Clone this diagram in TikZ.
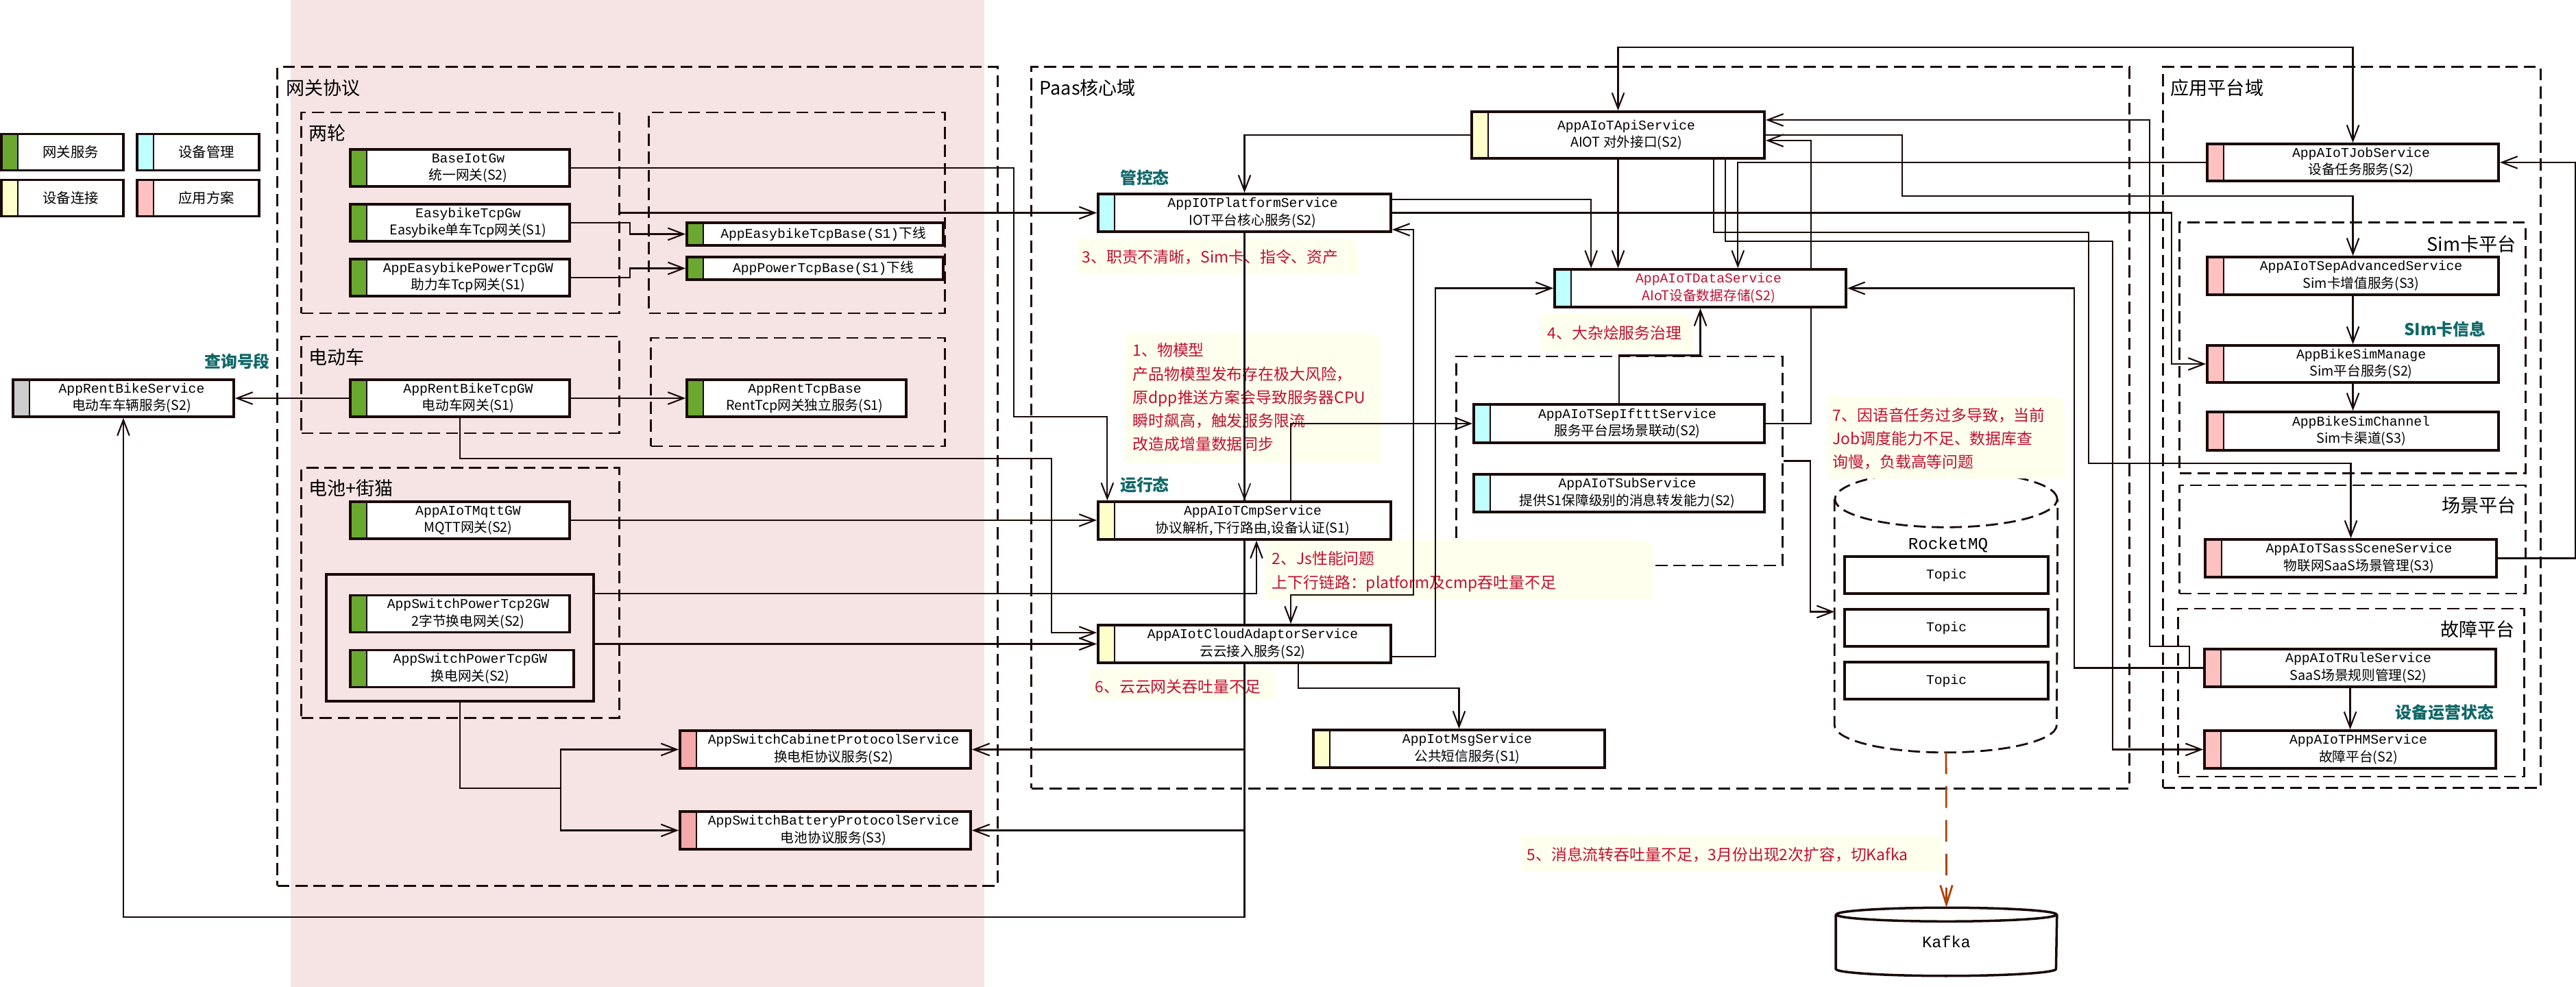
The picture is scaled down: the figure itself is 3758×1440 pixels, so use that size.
\documentclass[tikz,border=0pt]{standalone}
\usepackage{fontspec}
\setmainfont{Noto Sans CJK SC}
\newfontfamily\monoF{Liberation Mono}
\usepackage{xcolor}
\usepackage{tikz}
\usetikzlibrary{arrows.meta}
\definecolor{lineC}{RGB}{26,10,10}
\definecolor{gwC}{RGB}{106,168,48}
\definecolor{mgC}{RGB}{190,255,255}
\definecolor{cnC}{RGB}{255,255,204}
\definecolor{apC}{RGB}{255,192,192}
\definecolor{apD}{RGB}{244,170,170}
\definecolor{gyC}{RGB}{204,204,204}
\definecolor{bandC}{RGB}{246,228,229}
\definecolor{redC}{RGB}{192,16,48}
\definecolor{tealC}{RGB}{16,104,104}
\definecolor{noteC}{RGB}{255,255,238}
\definecolor{kafC}{RGB}{170,68,12}
\pgfdeclarelayer{bg}
\pgfdeclarelayer{mid}
\pgfsetlayers{bg,mid,main}
\newlength\stripew
\setlength\stripew{0.24cm}
\newcommand\svcTxt[2]{\hspace*{\stripew}\begin{tabular}{@{}c@{}}{\monoF #1}\\#2\end{tabular}}
\newcommand\noteBg[4]{\fill[noteC] (#1,#2) -- ({#3-40},#2) .. controls (#3,#2) .. (#3,{#2+40}) -- (#3,#4) -- (#1,#4) -- cycle;}

\begin{document}
\begin{tikzpicture}[x=0.01cm,y=-0.01cm,
svc/.style={draw=lineC,line width=1pt,fill=white,inner sep=0pt,font=\fontsize{5.6}{7.2}\selectfont,
  path picture={\fill[#1] (path picture bounding box.south west) rectangle ([xshift=\stripew]path picture bounding box.north west);
  \draw[lineC,line width=0.8pt] ([xshift=\stripew]path picture bounding box.south west) -- ([xshift=\stripew]path picture bounding box.north west);}},
lsvc/.style={svc=#1,minimum width=3.2cm,minimum height=0.54cm},
rsvc/.style={svc=#1,minimum width=4.25cm,minimum height=0.55cm},
leg/.style={svc=#1,minimum width=1.78cm,minimum height=0.53cm,font=\fontsize{5.8}{7}\selectfont},
box/.style={draw=lineC,line width=1pt,fill=white,inner sep=0pt,font=\monoF\fontsize{5.6}{7}\selectfont},
grp/.style={draw=lineC,line width=0.8pt,dash pattern=on 5pt off 2.5pt,inner sep=0pt},
ttl/.style={font=\fontsize{7.7}{9}\selectfont,inner sep=0pt},
tag/.style={font=\fontsize{6.8}{8}\selectfont\bfseries,text=tealC,inner sep=0pt},
note/.style={font=\fontsize{6.5}{9.7}\selectfont,text=redC,align=left,inner sep=0pt},
ln/.style={draw=lineC,line width=0.6pt},
arr/.style={ln,-{Straight Barb[length=6.5pt,width=5pt]}},
arrboth/.style={ln,{Straight Barb[length=6.5pt,width=5pt]}-{Straight Barb[length=6.5pt,width=5pt]}},
kafkaArr/.style={draw=kafC,line width=0.8pt,dash pattern=on 9pt off 5pt,-{Straight Barb[length=8pt,width=5pt]}}]
\useasboundingbox (0,0) rectangle (3758,1440);

\begin{pgfonlayer}{bg}
\fill[white] (0,0) rectangle (3758,1440);
\fill[bandC] (424,0) rectangle (1436,1440);
\node[grp,minimum width=10.5cm,minimum height=11.94cm] (gwGrp) at (930,695) {};
\node[grp,minimum width=4.63cm,minimum height=2.93cm] (grpTwo) at (671.5,310.5) {};
\node[grp,minimum width=4.31cm,minimum height=2.93cm] (grpTwoBase) at (1162.5,310.5) {};
\node[grp,minimum width=4.63cm,minimum height=1.41cm] (grpRent) at (671.5,561.5) {};
\node[grp,minimum width=4.28cm,minimum height=1.58cm] (grpRentBase) at (1164,572) {};
\node[grp,minimum width=4.63cm,minimum height=3.64cm] (grpBatt) at (671.5,865) {};
\node[draw=lineC,line width=1pt,inner sep=0pt,minimum width=3.9cm,minimum height=1.85cm] (swGroup) at (671,930.5) {};
\node[grp,minimum width=16.01cm,minimum height=10.52cm] (paasGrp) at (2305.5,624) {};
\node[grp,minimum width=4.75cm,minimum height=3.05cm] (sepGrp) at (2362.5,672.5) {};
\node[grp,minimum width=5.5cm,minimum height=10.51cm] (appGrp) at (3431,623.5) {};
\node[grp,minimum width=5.04cm,minimum height=3.65cm] (simGrp) at (3432,507.5) {};
\node[grp,minimum width=5.04cm,minimum height=1.58cm] (sceneGrp) at (3432,787) {};
\node[grp,minimum width=5.04cm,minimum height=2.45cm] (faultGrp) at (3430,1010.5) {};
\node[inner sep=0pt,minimum width=3.24cm,minimum height=4.09cm] (mq) at (2839,892.5) {};
\draw[grp,fill=white] ([yshift=-0.41cm]mq.north west) -- ([yshift=0.4cm]mq.south west) arc[start angle=180,end angle=360,x radius=1.62cm,y radius=0.4cm] -- ([yshift=-0.41cm]mq.north east);
\draw[grp] ([yshift=-0.41cm]mq.north) ellipse[x radius=1.62cm,y radius=0.41cm];
\noteBg{1571}{348}{1982}{400}
\noteBg{1641}{487}{2015}{675}
\noteBg{2247}{458}{2471}{512}
\noteBg{1845}{787}{2412}{875}
\noteBg{1589}{975}{1861}{1020}
\noteBg{2219}{1218}{2836}{1272}
\noteBg{2666}{578}{3012}{698}
\node[note,anchor=west] (n3) at (1578,375) {3、职责不清晰，Sim卡、指令、资产};
\node[note,anchor=north west] (n1) at (1652,500) {1、物模型\\产品物模型发布存在极大风险，\\原dpp推送方案会导致服务器CPU\\瞬时飙高，触发服务限流\\改造成增量数据同步};
\node[note,anchor=west] (n4) at (2257,486) {4、大杂烩服务治理};
\node[note,anchor=north west] (n2) at (1855,804) {2、Js性能问题\\上下行链路：platform及cmp吞吐量不足};
\node[note,anchor=west] (n6) at (1597,1002) {6、云云网关吞吐量不足};
\node[note,anchor=west] (n5) at (2227,1247) {5、消息流转吞吐量不足，3月份出现2次扩容，切Kafka};
\node[note,anchor=north west] (n7) at (2673,594) {7、因语音任务过多导致，当前\\Job调度能力不足、数据库查\\询慢，负载高等问题};
\end{pgfonlayer}

\node[leg=gwC] (legGw) at (91,222) {\hspace*{\stripew}网关服务};
\node[leg=mgC] (legMg) at (289,222) {\hspace*{\stripew}设备管理};
\node[leg=cnC] (legCn) at (91,289) {\hspace*{\stripew}设备连接};
\node[leg=apC] (legAp) at (289,289) {\hspace*{\stripew}应用方案};

\node[ttl,anchor=west] (tGw) at (417,128.5) {网关协议};
\node[ttl,anchor=west] (tTwo) at (450,194.5) {两轮};
\node[ttl,anchor=west] (tRent) at (450,521.5) {电动车};
\node[ttl,anchor=west] (tBatt) at (450,712.5) {电池+街猫};
\node[ttl,anchor=west] (tPaas) at (1516,128.5) {Paas核心域};
\node[ttl,anchor=west] (tApp) at (3166,128.5) {应用平台域};
\node[ttl,anchor=east] (tSim) at (3671,356) {Sim卡平台};
\node[ttl,anchor=east] (tScene) at (3671,737.5) {场景平台};
\node[ttl,anchor=east] (tFault) at (3669,918.5) {故障平台};

\node[tag] (tagQuery) at (346,527.5) {查询号段};
\node[tag] (tagCtl) at (1670,259) {管控态};
\node[tag] (tagRun) at (1670,707) {运行态};
\node[tag] (tagSim) at (3567,480) {SIm卡信息};
\node[tag] (tagOps) at (3566.5,1039) {设备运营状态};

\node[lsvc=gwC] (baseGw) at (671,245) {\svcTxt{BaseIotGw}{统一网关(S2)}};
\node[lsvc=gwC] (easyGw) at (671,325) {\svcTxt{EasybikeTcpGw}{Easybike单车Tcp网关(S1)}};
\node[lsvc=gwC] (powerGw) at (671,405) {\svcTxt{AppEasybikePowerTcpGW}{助力车Tcp网关(S1)}};
\node[svc=gwC,minimum width=3.74cm,minimum height=0.33cm] (easyBase) at (1189,341.5) {\hspace*{\stripew}{\monoF AppEasybikeTcpBase(S1)}下线};
\node[svc=gwC,minimum width=3.74cm,minimum height=0.33cm] (powerBase) at (1189,391.5) {\hspace*{\stripew}{\monoF AppPowerTcpBase(S1)}下线};
\node[lsvc=gwC] (rentGw) at (671,581) {\svcTxt{AppRentBikeTcpGW}{电动车网关(S1)}};
\node[lsvc=gwC] (rentBase) at (1162,581) {\svcTxt{AppRentTcpBase}{RentTcp网关独立服务(S1)}};
\node[lsvc=gyC,minimum width=3.22cm] (rentSvc) at (180,581) {\svcTxt{AppRentBikeService}{电动车车辆服务(S2)}};
\node[lsvc=gwC] (mqttGw) at (671,759) {\svcTxt{AppAIoTMqttGW}{MQTT网关(S2)}};
\node[lsvc=gwC] (sw2Gw) at (671,895.5) {\svcTxt{AppSwitchPowerTcp2GW}{2字节换电网关(S2)}};
\node[lsvc=gwC,minimum width=3.26cm] (swGw) at (674,975.5) {\svcTxt{AppSwitchPowerTcpGW}{换电网关(S2)}};
\node[rsvc=apD,minimum width=4.24cm] (cabinet) at (1204,1093.5) {\svcTxt{AppSwitchCabinetProtocolService}{换电柜协议服务(S2)}};
\node[rsvc=apD,minimum width=4.24cm] (battery) at (1204,1211.5) {\svcTxt{AppSwitchBatteryProtocolService}{电池协议服务(S3)}};

\node[rsvc=cnC,minimum width=4.27cm,minimum height=0.68cm] (apiSvc) at (2360.5,197) {\svcTxt{AppAIoTApiService}{AIOT 对外接口(S2)}};
\node[rsvc=mgC,minimum width=4.27cm] (platSvc) at (1815.5,310.5) {\svcTxt{AppIOTPlatformService}{IOT平台核心服务(S2)}};
\node[rsvc=mgC,text=redC] (dataSvc) at (2480.5,420.5) {\svcTxt{AppAIoTDataService}{AIoT设备数据存储(S2)}};
\node[rsvc=cnC,minimum width=4.27cm] (cmpSvc) at (1815.5,759.5) {\svcTxt{AppAIoTCmpService}{协议解析,下行路由,设备认证(S1)}};
\node[rsvc=cnC,minimum width=4.27cm] (cloudSvc) at (1815.5,939.5) {\svcTxt{AppAIotCloudAdaptorService}{云云接入服务(S2)}};
\node[rsvc=cnC] (msgSvc) at (2128.5,1092.5) {\svcTxt{AppIotMsgService}{公共短信服务(S1)}};
\node[rsvc=mgC,minimum width=4.24cm,minimum height=0.56cm] (iftttSvc) at (2362,618) {\svcTxt{AppAIoTSepIftttService}{服务平台层场景联动(S2)}};
\node[rsvc=mgC,minimum width=4.24cm] (subSvc) at (2362,719.5) {\svcTxt{AppAIoTSubService}{提供S1保障级别的消息转发能力(S2)}};
\node[rsvc=apC,minimum height=0.54cm] (jobSvc) at (3432.5,237) {\svcTxt{AppAIoTJobService}{设备任务服务(S2)}};
\node[rsvc=apC] (advSvc) at (3432.5,402.5) {\svcTxt{AppAIoTSepAdvancedService}{Sim卡增值服务(S3)}};
\node[rsvc=apC,minimum height=0.54cm] (simMgr) at (3432.5,531) {\svcTxt{AppBikeSimManage}{Sim平台服务(S2)}};
\node[rsvc=apC,minimum height=0.56cm] (simChan) at (3432.5,629) {\svcTxt{AppBikeSimChannel}{Sim卡渠道(S3)}};
\node[rsvc=apC] (sceneSvc) at (3429.5,814.5) {\svcTxt{AppAIoTSassSceneService}{物联网SaaS场景管理(S3)}};
\node[rsvc=apC] (ruleSvc) at (3428.5,974.5) {\svcTxt{AppAIoTRuleService}{SaaS场景规则管理(S2)}};
\node[rsvc=apC] (phmSvc) at (3428.5,1093.5) {\svcTxt{AppAIoTPHMService}{故障平台(S2)}};

\node[inner sep=0pt,font=\monoF\fontsize{6.9}{8}\selectfont] (mqLbl) at (2842,795) {RocketMQ};
\node[box,minimum width=2.97cm,minimum height=0.54cm] (topic1) at (2839.5,839) {Topic};
\node[box,minimum width=2.97cm,minimum height=0.54cm] (topic2) at (2839.5,916) {Topic};
\node[box,minimum width=2.97cm,minimum height=0.54cm] (topic3) at (2839.5,993) {Topic};
\node[inner sep=0pt,minimum width=3.21cm,minimum height=0.98cm,font=\monoF\fontsize{6.7}{8}\selectfont] (kafka) at (2839.5,1374) {Kafka};
\draw[lineC,line width=1pt] ([yshift=-0.1cm]kafka.north west) -- ([yshift=0.1cm]kafka.south west) arc[start angle=180,end angle=360,x radius=1.605cm,y radius=0.1cm] -- ([yshift=-0.1cm]kafka.north east);
\draw[lineC,line width=1pt] ([yshift=-0.1cm]kafka.north) ellipse[x radius=1.605cm,y radius=0.1cm];

\begin{pgfonlayer}{mid}
\draw[arr] (easyGw.east) -- ++(86,0) |- (easyBase.west);
\draw[arr] (powerGw.east) -- ++(86,0) |- (powerBase.west);
\draw[arr] (baseGw.east) -| (1479,608) -| ([xshift=-2cm]cmpSvc.north);
\draw[arr] (grpTwo.east) -- (platSvc.west);
\draw[arr] (rentGw.west) -- (rentSvc.east);
\draw[arr] (rentGw.east) -- (rentBase.west);
\draw[arr] (rentGw.south) |- (1534,669) |- ([yshift=0.165cm]cloudSvc.west);
\draw[arr] (mqttGw.east) -- (mqttGw.east -| cmpSvc.west);
\draw[arr] ([yshift=-0.3cm]swGroup.north east) -| ([xshift=0.175cm]cmpSvc.south);
\draw[arr] (swGroup.east |- cloudSvc.west) -- (cloudSvc.west);
\coordinate (swSplit) at (818,1150);
\draw[ln] (swGroup.south) |- (swSplit);
\draw[arr] (swSplit) |- (cabinet.west);
\draw[arr] (swSplit) |- (battery.west);
\draw[arr] (apiSvc.west) -| (platSvc.north);
\draw[arr,line width=0.45pt] (platSvc.south) -- (cmpSvc.north);
\coordinate (busBot) at (0,1338);
\draw[arr] (platSvc.south) -- (platSvc.south |- busBot) -| (rentSvc.south);
\draw[arr] (platSvc.south |- cabinet.east) -- (cabinet.east);
\draw[arr] (platSvc.south |- battery.east) -- (battery.east);
\draw[arr] ([xshift=0.675cm]cmpSvc.north) |- (iftttSvc.west);
\draw[arrboth] ([xshift=0.675cm]cloudSvc.north) |- (2062,868) |- ([yshift=-0.245cm]platSvc.east);
\draw[arr] ([yshift=-0.185cm]cloudSvc.east) -- ++(63,0) |- (dataSvc.west);
\draw[arr] ([xshift=0.785cm]cloudSvc.south) -- ++(0,35) -| (msgSvc.north);
\draw[arrboth] (apiSvc.north) -- ++(0,-92) -| (jobSvc.north);
\draw[arr] (apiSvc.south) -- (apiSvc.south |- dataSvc.north);
\draw[arr] ([yshift=0.195cm]platSvc.east) -| ([xshift=0.55cm]dataSvc.north west);
\draw[arr] (jobSvc.west) -| ([xshift=2.69cm]dataSvc.north west);
\draw[arr] (platSvc.east) -- ++(1137,0) |- (simMgr.west);
\draw[arr] (apiSvc.east) -- ++(199,0) -- ++(0,89) -| (advSvc.north);
\draw[arr] (iftttSvc.east) -- ++(66,0) |- ([yshift=-0.08cm]apiSvc.east);
\draw[arr] (ruleSvc.west) -- ++(-20,0) |- (3136,943) |- ([yshift=0.22cm]apiSvc.east);
\draw[arr] (ruleSvc.west) -- ++(-188,0) |- (dataSvc.east);
\draw[arr] ([xshift=1.395cm]apiSvc.south) |- (3047,339) -- (3047,676) -| (sceneSvc.north);
\draw[arr] ([xshift=1.565cm]apiSvc.south) |- (3082,352) |- (phmSvc.west);
\draw[arr] (sceneSvc.east) -- ++(113,0) |- (jobSvc.east);
\draw[arr] (advSvc.south) -- (simMgr.north);
\draw[arr] (simMgr.south) -- (simChan.north);
\draw[arr] (ruleSvc.south) -- (phmSvc.north);
\draw[arr] (iftttSvc.north) |- (sepGrp.north -| dataSvc.south) -- (dataSvc.south);
\draw[arr] (sepGrp.east) -- ++(39,0) |- (mq.west);
\draw[kafkaArr] (mq.south) -- (kafka.north);
\end{pgfonlayer}
\end{tikzpicture}
\end{document}
